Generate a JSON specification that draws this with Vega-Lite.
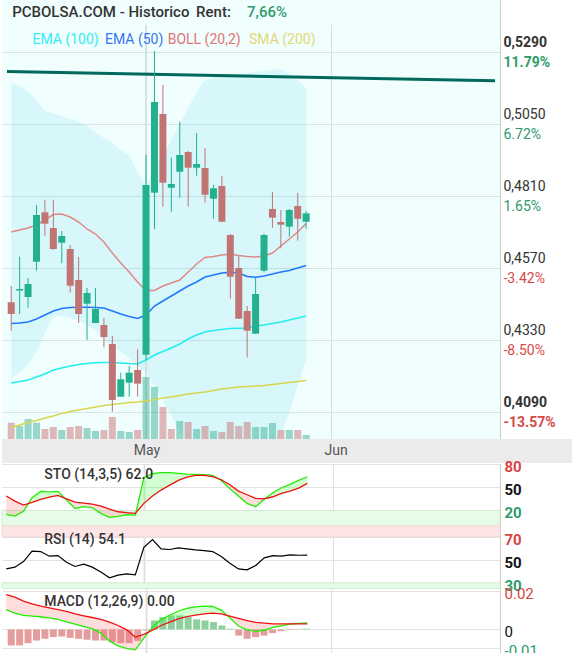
{
"$schema":"https://vega.github.io/schema/vega-lite/v6.json",
"padding":0,
"background":"#ffffff",
"spacing":0,
"bounds":"flush",
"config":{"view":{"stroke":null},"font":"Roboto","axis":{"labelFont":"Roboto"}},
"datasets":{
"d":[
{"i":0,"o":0.44557,"h":0.451,"l":0.4361,"c":0.44167,"vol":16.3,"vd":"d","bu":0.51867,"bm":0.469,"bl":0.42033,"e50":0.4385,"e100":0.41867,"s200":0.40383,"k":14.9,"dd":38.5,"rsi":42.1,"m":0.0105,"sig":0.0184,"hist":-0.0084},
{"i":1,"o":0.4495,"h":0.46077,"l":0.44167,"c":0.45,"vol":13,"vd":"u","bu":0.51767,"bm":0.46967,"bl":0.42233,"e50":0.43867,"e100":0.41917,"s200":0.40467,"k":12.8,"dd":32,"rsi":43.6,"m":0.0086,"sig":0.017,"hist":-0.0084},
{"i":2,"o":0.44733,"h":0.45367,"l":0.44377,"c":0.45167,"vol":20,"vd":"u","bu":0.516,"bm":0.47033,"bl":0.42467,"e50":0.439,"e100":0.41967,"s200":0.4055,"k":19,"dd":26.9,"rsi":48.5,"m":0.0074,"sig":0.0149,"hist":-0.0072},
{"i":3,"o":0.4591,"h":0.478,"l":0.4561,"c":0.47467,"vol":16.3,"vd":"u","bu":0.513,"bm":0.47133,"bl":0.429,"e50":0.44,"e100":0.42067,"s200":0.40617,"k":36.3,"dd":30.3,"rsi":57.5,"m":0.007,"sig":0.0135,"hist":-0.0058},
{"i":4,"o":0.47557,"h":0.47967,"l":0.46777,"c":0.47177,"vol":10,"vd":"d","bu":0.50933,"bm":0.473,"bl":0.43533,"e50":0.44133,"e100":0.42167,"s200":0.407,"k":44.5,"dd":34.2,"rsi":57.2,"m":0.0067,"sig":0.0123,"hist":-0.0049},
{"i":5,"o":0.47033,"h":0.47967,"l":0.463,"c":0.46333,"vol":12,"vd":"d","bu":0.5085,"bm":0.47483,"bl":0.44067,"e50":0.44267,"e100":0.423,"s200":0.40767,"k":44,"dd":37.2,"rsi":53.2,"m":0.0061,"sig":0.0114,"hist":-0.004},
{"i":6,"o":0.46543,"h":0.46933,"l":0.45857,"c":0.46767,"vol":9,"vd":"u","bu":0.50767,"bm":0.475,"bl":0.441,"e50":0.4435,"e100":0.42367,"s200":0.4085,"k":44.5,"dd":39.3,"rsi":53.7,"m":0.0053,"sig":0.0105,"hist":-0.0037},
{"i":7,"o":0.46333,"h":0.46467,"l":0.44877,"c":0.4511,"vol":12,"vd":"d","bu":0.50667,"bm":0.474,"bl":0.44033,"e50":0.44383,"e100":0.42433,"s200":0.40917,"k":33.5,"dd":35,"rsi":47.9,"m":0.004,"sig":0.0095,"hist":-0.0044},
{"i":8,"o":0.453,"h":0.46067,"l":0.43867,"c":0.44167,"vol":13,"vd":"d","bu":0.50567,"bm":0.47233,"bl":0.43967,"e50":0.4439,"e100":0.42483,"s200":0.40967,"k":22.6,"dd":30.8,"rsi":44.2,"m":0.0028,"sig":0.0082,"hist":-0.0049},
{"i":9,"o":0.4451,"h":0.45033,"l":0.433,"c":0.44867,"vol":11,"vd":"u","bu":0.50433,"bm":0.47,"bl":0.438,"e50":0.4439,"e100":0.42517,"s200":0.41017,"k":24.8,"dd":29.5,"rsi":46.2,"m":0.0016,"sig":0.0072,"hist":-0.0054},
{"i":10,"o":0.43867,"h":0.45033,"l":0.43867,"c":0.44333,"vol":8,"vd":"u","bu":0.50233,"bm":0.46833,"bl":0.43633,"e50":0.44383,"e100":0.4254,"s200":0.41067,"k":23.5,"dd":28.2,"rsi":43.6,"m":0.0004,"sig":0.0063,"hist":-0.0058},
{"i":11,"o":0.438,"h":0.44033,"l":0.43057,"c":0.434,"vol":9,"vd":"d","bu":0.50033,"bm":0.46567,"bl":0.433,"e50":0.44367,"e100":0.4255,"s200":0.41117,"k":16.2,"dd":25.6,"rsi":39.3,"m":-0.0019,"sig":0.0053,"hist":-0.0058},
{"i":12,"o":0.43167,"h":0.43433,"l":0.4091,"c":0.413,"vol":22,"vd":"d","bu":0.49867,"bm":0.462,"bl":0.431,"e50":0.44267,"e100":0.4255,"s200":0.4115,"k":11,"dd":21.7,"rsi":34.3,"m":-0.006,"sig":0.0039,"hist":-0.0067},
{"i":13,"o":0.4141,"h":0.4221,"l":0.4141,"c":0.4199,"vol":8,"vd":"u","bu":0.49633,"bm":0.45867,"bl":0.429,"e50":0.44167,"e100":0.42533,"s200":0.41183,"k":12.4,"dd":18.3,"rsi":36.6,"m":-0.0086,"sig":0.0021,"hist":-0.0072},
{"i":14,"o":0.41877,"h":0.42433,"l":0.4141,"c":0.4221,"vol":7,"vd":"u","bu":0.49467,"bm":0.45567,"bl":0.427,"e50":0.44083,"e100":0.42517,"s200":0.41217,"k":14.5,"dd":17.1,"rsi":37.8,"m":-0.0099,"sig":-0.0002,"hist":-0.0072},
{"i":15,"o":0.423,"h":0.4299,"l":0.4141,"c":0.41843,"vol":9,"vd":"d","bu":0.489,"bm":0.45233,"bl":0.42433,"e50":0.44017,"e100":0.425,"s200":0.41233,"k":14,"dd":16.2,"rsi":36.9,"m":-0.0107,"sig":-0.004,"hist":-0.006},
{"i":16,"o":0.4281,"h":0.49467,"l":0.42633,"c":0.48467,"vol":62,"vd":"u","bu":0.48433,"bm":0.4495,"bl":0.42233,"e50":0.44133,"e100":0.42633,"s200":0.41267,"k":62,"dd":29.1,"rsi":61,"m":-0.0045,"sig":-0.0026,"hist":-0.0005},
{"i":17,"o":0.4821,"h":0.52933,"l":0.4699,"c":0.51233,"vol":52,"vd":"u","bu":0.49033,"bm":0.4495,"bl":0.41733,"e50":0.44433,"e100":0.428,"s200":0.41317,"k":67.2,"dd":38.5,"rsi":67.7,"m":0.0012,"sig":-0.0003,"hist":0.0047},
{"i":18,"o":0.50833,"h":0.518,"l":0.47743,"c":0.48543,"vol":32,"vd":"d","bu":0.49467,"bm":0.451,"bl":0.413,"e50":0.446,"e100":0.42917,"s200":0.41367,"k":68.5,"dd":46.2,"rsi":59.5,"m":0.0053,"sig":0.0021,"hist":0.0065},
{"i":19,"o":0.48377,"h":0.49377,"l":0.47577,"c":0.485,"vol":10,"vd":"d","bu":0.49967,"bm":0.452,"bl":0.40767,"e50":0.44767,"e100":0.43033,"s200":0.414,"k":68.5,"dd":52.6,"rsi":59,"m":0.0075,"sig":0.0039,"hist":0.0074},
{"i":20,"o":0.4891,"h":0.50577,"l":0.48043,"c":0.49467,"vol":18,"vd":"u","bu":0.505,"bm":0.453,"bl":0.40233,"e50":0.44933,"e100":0.43167,"s200":0.4145,"k":67.6,"dd":58.6,"rsi":60.4,"m":0.0096,"sig":0.0056,"hist":0.0074},
{"i":21,"o":0.49567,"h":0.496,"l":0.47743,"c":0.49043,"vol":17,"vd":"d","bu":0.51033,"bm":0.45567,"bl":0.398,"e50":0.451,"e100":0.43333,"s200":0.415,"k":66.7,"dd":62.9,"rsi":59.5,"m":0.0111,"sig":0.0068,"hist":0.0065},
{"i":22,"o":0.49043,"h":0.502,"l":0.48777,"c":0.49167,"vol":10,"vd":"u","bu":0.51567,"bm":0.45833,"bl":0.39467,"e50":0.45233,"e100":0.43467,"s200":0.41533,"k":66.3,"dd":65,"rsi":58.7,"m":0.0119,"sig":0.0075,"hist":0.0053},
{"i":23,"o":0.49033,"h":0.497,"l":0.47877,"c":0.48143,"vol":13,"vd":"d","bu":0.51967,"bm":0.4605,"bl":0.39233,"e50":0.454,"e100":0.43567,"s200":0.41567,"k":66,"dd":65.2,"rsi":58.1,"m":0.0123,"sig":0.0082,"hist":0.0047},
{"i":24,"o":0.4801,"h":0.48467,"l":0.47343,"c":0.48357,"vol":8,"vd":"u","bu":0.52067,"bm":0.46083,"bl":0.391,"e50":0.45467,"e100":0.43617,"s200":0.41617,"k":65,"dd":63.5,"rsi":57.2,"m":0.0121,"sig":0.0086,"hist":0.0039},
{"i":25,"o":0.48433,"h":0.48767,"l":0.4723,"c":0.47243,"vol":7,"vd":"d","bu":0.52133,"bm":0.46133,"bl":0.39033,"e50":0.45533,"e100":0.4365,"s200":0.41667,"k":58.5,"dd":59.5,"rsi":52.9,"m":0.0102,"sig":0.0082,"hist":0.0021},
{"i":26,"o":0.468,"h":0.46833,"l":0.44677,"c":0.4541,"vol":17,"vd":"d","bu":0.52167,"bm":0.46167,"bl":0.38967,"e50":0.45557,"e100":0.43683,"s200":0.417,"k":48,"dd":53,"rsi":47.1,"m":0.0061,"sig":0.007,"hist":0.0004},
{"i":27,"o":0.457,"h":0.461,"l":0.44,"c":0.4401,"vol":13,"vd":"d","bu":0.52183,"bm":0.46117,"bl":0.38967,"e50":0.45533,"e100":0.4369,"s200":0.41733,"k":38.5,"dd":44.9,"rsi":42.1,"m":0.0018,"sig":0.0058,"hist":-0.0032},
{"i":28,"o":0.44267,"h":0.44433,"l":0.4271,"c":0.4361,"vol":17,"vd":"d","bu":0.522,"bm":0.46083,"bl":0.39033,"e50":0.45417,"e100":0.437,"s200":0.4175,"k":29.1,"dd":40.2,"rsi":41.3,"m":-0.0002,"sig":0.0046,"hist":-0.0049},
{"i":29,"o":0.4351,"h":0.45377,"l":0.435,"c":0.44833,"vol":12,"vd":"u","bu":0.52233,"bm":0.46067,"bl":0.39133,"e50":0.4539,"e100":0.43767,"s200":0.41767,"k":24.8,"dd":35.5,"rsi":45,"m":-0.0009,"sig":0.0037,"hist":-0.004},
{"i":30,"o":0.4561,"h":0.46843,"l":0.45557,"c":0.468,"vol":12,"vd":"u","bu":0.52267,"bm":0.461,"bl":0.393,"e50":0.45433,"e100":0.438,"s200":0.41783,"k":34.5,"dd":35,"rsi":51.7,"m":-0.0004,"sig":0.0033,"hist":-0.0032},
{"i":31,"o":0.47667,"h":0.48233,"l":0.47043,"c":0.47377,"vol":16,"vd":"u","bu":0.52317,"bm":0.462,"bl":0.39567,"e50":0.455,"e100":0.4385,"s200":0.41817,"k":42.8,"dd":37.6,"rsi":53.7,"m":0.0011,"sig":0.003,"hist":-0.0019},
{"i":32,"o":0.47233,"h":0.47633,"l":0.46357,"c":0.47143,"vol":9,"vd":"d","bu":0.523,"bm":0.46433,"bl":0.40133,"e50":0.45567,"e100":0.439,"s200":0.4185,"k":49.2,"dd":41.9,"rsi":53.2,"m":0.0019,"sig":0.003,"hist":-0.0009},
{"i":33,"o":0.47077,"h":0.47667,"l":0.46743,"c":0.47633,"vol":9,"vd":"u","bu":0.52167,"bm":0.46667,"bl":0.409,"e50":0.45617,"e100":0.43967,"s200":0.41883,"k":53.5,"dd":44.9,"rsi":54.3,"m":0.0028,"sig":0.003,"hist":-0.0003},
{"i":34,"o":0.47767,"h":0.482,"l":0.4661,"c":0.47343,"vol":9,"vd":"d","bu":0.51967,"bm":0.469,"bl":0.418,"e50":0.457,"e100":0.44033,"s200":0.41917,"k":58.6,"dd":48.8,"rsi":54,"m":0.0032,"sig":0.003,"hist":-0.0002},
{"i":35,"o":0.47243,"h":0.476,"l":0.4701,"c":0.47523,"vol":4,"vd":"u","bu":0.517,"bm":0.47183,"bl":0.42633,"e50":0.45783,"e100":0.441,"s200":0.4195,"k":63.3,"dd":54.8,"rsi":54.1,"m":0.0035,"sig":0.003,"hist":0.0004}
],
"stofill":[
{"i":0,"k":14.9,"dd":38.5,"run":1,"s":"dn"},{"i":1,"k":12.8,"dd":32,"run":1,"s":"dn"},{"i":2,"k":19,"dd":26.9,"run":1,"s":"dn"},{"i":3,"k":36.3,"dd":30.3,"run":1,"s":"dn"},
{"i":3,"k":36.3,"dd":30.3,"run":2,"s":"up"},{"i":4,"k":44.5,"dd":34.2,"run":2,"s":"up"},{"i":5,"k":44,"dd":37.2,"run":2,"s":"up"},{"i":6,"k":44.5,"dd":39.3,"run":2,"s":"up"},{"i":7,"k":33.5,"dd":35,"run":2,"s":"up"},
{"i":7,"k":33.5,"dd":35,"run":3,"s":"dn"},{"i":8,"k":22.6,"dd":30.8,"run":3,"s":"dn"},{"i":9,"k":24.8,"dd":29.5,"run":3,"s":"dn"},{"i":10,"k":23.5,"dd":28.2,"run":3,"s":"dn"},{"i":11,"k":16.2,"dd":25.6,"run":3,"s":"dn"},{"i":12,"k":11,"dd":21.7,"run":3,"s":"dn"},{"i":13,"k":12.4,"dd":18.3,"run":3,"s":"dn"},{"i":14,"k":14.5,"dd":17.1,"run":3,"s":"dn"},{"i":15,"k":14,"dd":16.2,"run":3,"s":"dn"},
{"i":15,"k":14,"dd":16.2,"run":4,"s":"up"},{"i":16,"k":62,"dd":29.1,"run":4,"s":"up"},{"i":17,"k":67.2,"dd":38.5,"run":4,"s":"up"},{"i":18,"k":68.5,"dd":46.2,"run":4,"s":"up"},{"i":19,"k":68.5,"dd":52.6,"run":4,"s":"up"},{"i":20,"k":67.6,"dd":58.6,"run":4,"s":"up"},{"i":21,"k":66.7,"dd":62.9,"run":4,"s":"up"},{"i":22,"k":66.3,"dd":65,"run":4,"s":"up"},{"i":23,"k":66,"dd":65.2,"run":4,"s":"up"},{"i":24,"k":65,"dd":63.5,"run":4,"s":"up"},{"i":25,"k":58.5,"dd":59.5,"run":4,"s":"up"},
{"i":25,"k":58.5,"dd":59.5,"run":5,"s":"dn"},{"i":26,"k":48,"dd":53,"run":5,"s":"dn"},{"i":27,"k":38.5,"dd":44.9,"run":5,"s":"dn"},{"i":28,"k":29.1,"dd":40.2,"run":5,"s":"dn"},{"i":29,"k":24.8,"dd":35.5,"run":5,"s":"dn"},{"i":30,"k":34.5,"dd":35,"run":5,"s":"dn"},
{"i":30,"k":34.5,"dd":35,"run":6,"s":"up"},{"i":31,"k":42.8,"dd":37.6,"run":6,"s":"up"},{"i":32,"k":49.2,"dd":41.9,"run":6,"s":"up"},{"i":33,"k":53.5,"dd":44.9,"run":6,"s":"up"},{"i":34,"k":58.6,"dd":48.8,"run":6,"s":"up"},{"i":35,"k":63.3,"dd":54.8,"run":6,"s":"up"}
],
"macdfill":[
{"i":0,"m":0.0105,"sig":0.0184,"run":1,"s":"dn"},{"i":1,"m":0.0086,"sig":0.017,"run":1,"s":"dn"},{"i":2,"m":0.0074,"sig":0.0149,"run":1,"s":"dn"},{"i":3,"m":0.007,"sig":0.0135,"run":1,"s":"dn"},{"i":4,"m":0.0067,"sig":0.0123,"run":1,"s":"dn"},{"i":5,"m":0.0061,"sig":0.0114,"run":1,"s":"dn"},{"i":6,"m":0.0053,"sig":0.0105,"run":1,"s":"dn"},{"i":7,"m":0.004,"sig":0.0095,"run":1,"s":"dn"},{"i":8,"m":0.0028,"sig":0.0082,"run":1,"s":"dn"},{"i":9,"m":0.0016,"sig":0.0072,"run":1,"s":"dn"},{"i":10,"m":0.0004,"sig":0.0063,"run":1,"s":"dn"},{"i":11,"m":-0.0019,"sig":0.0053,"run":1,"s":"dn"},{"i":12,"m":-0.006,"sig":0.0039,"run":1,"s":"dn"},{"i":13,"m":-0.0086,"sig":0.0021,"run":1,"s":"dn"},{"i":14,"m":-0.0099,"sig":-0.0002,"run":1,"s":"dn"},{"i":15,"m":-0.0107,"sig":-0.004,"run":1,"s":"dn"},{"i":16,"m":-0.0045,"sig":-0.0026,"run":1,"s":"dn"},{"i":17,"m":0.0012,"sig":-0.0003,"run":1,"s":"dn"},
{"i":17,"m":0.0012,"sig":-0.0003,"run":2,"s":"up"},{"i":18,"m":0.0053,"sig":0.0021,"run":2,"s":"up"},{"i":19,"m":0.0075,"sig":0.0039,"run":2,"s":"up"},{"i":20,"m":0.0096,"sig":0.0056,"run":2,"s":"up"},{"i":21,"m":0.0111,"sig":0.0068,"run":2,"s":"up"},{"i":22,"m":0.0119,"sig":0.0075,"run":2,"s":"up"},{"i":23,"m":0.0123,"sig":0.0082,"run":2,"s":"up"},{"i":24,"m":0.0121,"sig":0.0086,"run":2,"s":"up"},{"i":25,"m":0.0102,"sig":0.0082,"run":2,"s":"up"},{"i":26,"m":0.0061,"sig":0.007,"run":2,"s":"up"},
{"i":26,"m":0.0061,"sig":0.007,"run":3,"s":"dn"},{"i":27,"m":0.0018,"sig":0.0058,"run":3,"s":"dn"},{"i":28,"m":-0.0002,"sig":0.0046,"run":3,"s":"dn"},{"i":29,"m":-0.0009,"sig":0.0037,"run":3,"s":"dn"},{"i":30,"m":-0.0004,"sig":0.0033,"run":3,"s":"dn"},{"i":31,"m":0.0011,"sig":0.003,"run":3,"s":"dn"},{"i":32,"m":0.0019,"sig":0.003,"run":3,"s":"dn"},{"i":33,"m":0.0028,"sig":0.003,"run":3,"s":"dn"},{"i":34,"m":0.0032,"sig":0.003,"run":3,"s":"dn"},
{"i":34,"m":0.0032,"sig":0.003,"run":4,"s":"up"},{"i":35,"m":0.0035,"sig":0.003,"run":4,"s":"up"}
],
"trend":[{"i":-0.5,"p":0.5225},{"i":57.41,"p":0.5194}],
"mon":[{"i":16,"m":"May"},{"i":38,"m":"Jun"}]
},
"vconcat":[
{
"width":498,"height":439,
"view":{"fill":"#f0fefe","stroke":null},
"resolve":{"scale":{"y":"independent"}},
"layer":[
{"data":{"name":"d"},"mark":{"type":"area","color":"#00b8d6","opacity":0.1,"clip":true},
 "encoding":{"x":{"field":"i","type":"quantitative","scale":{"domain":[-0.5,57.41],"nice":false,"zero":false},"axis":null},
  "y":{"field":"bu","type":"quantitative","scale":{"domain":[0.4,0.54633],"nice":false,"zero":false},
   "axis":{"orient":"right","title":null,"values":[0.409,0.433,0.457,0.481,0.505,0.529],"labelExpr":"replace(format(datum.value,'.4f'),'.',',')","grid":true,"gridColor":"#d3e5e5","ticks":false,"domain":true,"domainColor":"#cccccc","labelPadding":3,"labelOffset":-9,"labelFontSize":14,"labelColor":"#333333","labelFontWeight":{"condition":{"test":"datum.value>0.52||datum.value<0.41","value":"bold"},"value":"normal"},"labelOverlap":false,"labelBaseline":"middle"}},
  "y2":{"field":"bl"}}},
{"data":{"name":"mon"},"mark":{"type":"rule","color":"#d2e2e2"},
 "encoding":{"x":{"field":"i","type":"quantitative","scale":{"domain":[-0.5,57.41],"nice":false,"zero":false},"axis":null},
  "y":{"datum":0.538,"type":"quantitative","scale":{"domain":[0.4,0.54633],"nice":false,"zero":false},"axis":null},"y2":{"datum":0.4},
  "strokeWidth":{"condition":{"test":"datum.i==16","value":2},"value":1}}},
{"data":{"name":"d"},"mark":{"type":"bar","size":7,"opacity":0.45},
 "encoding":{"x":{"field":"i","type":"quantitative","scale":{"domain":[-0.5,57.41],"nice":false,"zero":false},"axis":null},
  "y":{"field":"vol","type":"quantitative","scale":{"domain":[0,439],"nice":false},"axis":null},
  "color":{"condition":{"test":"datum.vd=='u'","value":"#2aa889"},"value":"#c86464"}}},
{"data":{"name":"d"},"mark":{"type":"line","color":"#d8d64e","strokeWidth":1.5},
 "encoding":{"x":{"field":"i","type":"quantitative","scale":{"domain":[-0.5,57.41],"nice":false,"zero":false},"axis":null},
  "y":{"field":"s200","type":"quantitative","scale":{"domain":[0.4,0.54633],"nice":false,"zero":false},"axis":null}}},
{"data":{"name":"d"},"mark":{"type":"line","color":"#22eeee","strokeWidth":1.5},
 "encoding":{"x":{"field":"i","type":"quantitative","scale":{"domain":[-0.5,57.41],"nice":false,"zero":false},"axis":null},
  "y":{"field":"e100","type":"quantitative","scale":{"domain":[0.4,0.54633],"nice":false,"zero":false},"axis":null}}},
{"data":{"name":"d"},"mark":{"type":"line","color":"#1f78ff","strokeWidth":1.5},
 "encoding":{"x":{"field":"i","type":"quantitative","scale":{"domain":[-0.5,57.41],"nice":false,"zero":false},"axis":null},
  "y":{"field":"e50","type":"quantitative","scale":{"domain":[0.4,0.54633],"nice":false,"zero":false},"axis":null}}},
{"data":{"name":"d"},"mark":{"type":"line","color":"#e08888","strokeWidth":1.5},
 "encoding":{"x":{"field":"i","type":"quantitative","scale":{"domain":[-0.5,57.41],"nice":false,"zero":false},"axis":null},
  "y":{"field":"bm","type":"quantitative","scale":{"domain":[0.4,0.54633],"nice":false,"zero":false},"axis":null}}},
{"data":{"name":"trend"},"mark":{"type":"line","color":"#00695c","strokeWidth":3},
 "encoding":{"x":{"field":"i","type":"quantitative","scale":{"domain":[-0.5,57.41],"nice":false,"zero":false},"axis":null},
  "y":{"field":"p","type":"quantitative","scale":{"domain":[0.4,0.54633],"nice":false,"zero":false},"axis":null}}},
{"data":{"name":"d"},"mark":{"type":"rule","strokeWidth":1},
 "encoding":{"x":{"field":"i","type":"quantitative","scale":{"domain":[-0.5,57.41],"nice":false,"zero":false},"axis":null},
  "y":{"field":"l","type":"quantitative","scale":{"domain":[0.4,0.54633],"nice":false,"zero":false},
   "axis":{"orient":"right","title":null,"values":[0.409,0.433,0.457,0.481,0.505,0.529],"labelExpr":"datum.value>0.52?'11.79%':datum.value>0.5?'6.72%':datum.value>0.47?'1.65%':datum.value>0.45?'-3.42%':datum.value>0.42?'-8.50%':'-13.57%'","grid":false,"ticks":false,"domain":false,"labelPadding":3,"labelOffset":11,"labelFontSize":14,"labelColor":{"condition":{"test":"datum.value>0.47","value":"#2e9b6b"},"value":"#d94848"},"labelFontWeight":{"condition":{"test":"datum.value>0.52||datum.value<0.41","value":"bold"},"value":"normal"},"labelOverlap":false,"labelBaseline":"middle"}},
  "y2":{"field":"h"},
  "color":{"condition":{"test":"datum.c>=datum.o","value":"#23b08e"},"value":"#c07474"}}},
{"data":{"name":"d"},"mark":{"type":"bar","size":7},
 "encoding":{"x":{"field":"i","type":"quantitative","scale":{"domain":[-0.5,57.41],"nice":false,"zero":false},"axis":null},
  "y":{"field":"o","type":"quantitative","scale":{"domain":[0.4,0.54633],"nice":false,"zero":false},"axis":null},
  "y2":{"field":"c"},
  "color":{"condition":{"test":"datum.c>=datum.o","value":"#23b08e"},"value":"#c07474"}}},
{"data":{"values":[{}]},"mark":{"type":"text","align":"left","baseline":"alphabetic","fontSize":15,"fontWeight":500,"color":"#333333"},
 "encoding":{"x":{"datum":0.116,"type":"quantitative","scale":{"domain":[-0.5,57.41],"nice":false,"zero":false},"axis":null},
  "y":{"datum":0.54077,"type":"quantitative","scale":{"domain":[0.4,0.54633],"nice":false,"zero":false},"axis":null},
  "text":{"value":"PCBOLSA.COM - Historico"}}},
{"data":{"values":[{}]},"mark":{"type":"text","align":"left","baseline":"alphabetic","fontSize":15,"fontWeight":500,"color":"#333333"},
 "encoding":{"x":{"datum":21.94,"type":"quantitative","scale":{"domain":[-0.5,57.41],"nice":false,"zero":false},"axis":null},
  "y":{"datum":0.54077,"type":"quantitative","scale":{"domain":[0.4,0.54633],"nice":false,"zero":false},"axis":null},
  "text":{"value":"Rent:"}}},
{"data":{"values":[{}]},"mark":{"type":"text","align":"left","baseline":"alphabetic","fontSize":15,"fontWeight":500,"color":"#2e9b6b"},
 "encoding":{"x":{"datum":27.99,"type":"quantitative","scale":{"domain":[-0.5,57.41],"nice":false,"zero":false},"axis":null},
  "y":{"datum":0.54077,"type":"quantitative","scale":{"domain":[0.4,0.54633],"nice":false,"zero":false},"axis":null},
  "text":{"value":"7,66%"}}},
{"data":{"values":[{}]},"mark":{"type":"text","align":"left","baseline":"alphabetic","fontSize":14,"color":"#33eef2"},
 "encoding":{"x":{"datum":2.523,"type":"quantitative","scale":{"domain":[-0.5,57.41],"nice":false,"zero":false},"axis":null},
  "y":{"datum":0.53157,"type":"quantitative","scale":{"domain":[0.4,0.54633],"nice":false,"zero":false},"axis":null},
  "text":{"value":"EMA (100)"}}},
{"data":{"values":[{}]},"mark":{"type":"text","align":"left","baseline":"alphabetic","fontSize":14,"color":"#3a74f0"},
 "encoding":{"x":{"datum":11.128,"type":"quantitative","scale":{"domain":[-0.5,57.41],"nice":false,"zero":false},"axis":null},
  "y":{"datum":0.53157,"type":"quantitative","scale":{"domain":[0.4,0.54633],"nice":false,"zero":false},"axis":null},
  "text":{"value":"EMA (50)"}}},
{"data":{"values":[{}]},"mark":{"type":"text","align":"left","baseline":"alphabetic","fontSize":14,"color":"#e27474"},
 "encoding":{"x":{"datum":18.57,"type":"quantitative","scale":{"domain":[-0.5,57.41],"nice":false,"zero":false},"axis":null},
  "y":{"datum":0.53157,"type":"quantitative","scale":{"domain":[0.4,0.54633],"nice":false,"zero":false},"axis":null},
  "text":{"value":"BOLL (20,2)"}}},
{"data":{"values":[{}]},"mark":{"type":"text","align":"left","baseline":"alphabetic","fontSize":14,"color":"#e2d878"},
 "encoding":{"x":{"datum":28.22,"type":"quantitative","scale":{"domain":[-0.5,57.41],"nice":false,"zero":false},"axis":null},
  "y":{"datum":0.53157,"type":"quantitative","scale":{"domain":[0.4,0.54633],"nice":false,"zero":false},"axis":null},
  "text":{"value":"SMA (200)"}}}
]
},
{
"width":572,"height":24,
"view":{"fill":"#ebebeb","stroke":null},
"data":{"name":"mon"},
"mark":{"type":"text","fontSize":14,"color":"#555555","dx":3},
"encoding":{"x":{"field":"i","type":"quantitative","scale":{"domain":[-0.5,66.01],"nice":false,"zero":false},"axis":null},"text":{"field":"m"}}
},
{
"width":498,"height":63,
"resolve":{"scale":{"x":"independent","y":"independent"}},
"layer":[
{"data":{"values":[{"lo":0,"hi":20}]},"mark":{"type":"rect","color":"#e6fce6","stroke":"#d0ead0","strokeWidth":1},
 "encoding":{"y":{"field":"lo","type":"quantitative","scale":{"domain":[0,81],"nice":false,"zero":false},
   "axis":{"orient":"right","title":null,"values":[20,50,80],"grid":true,"gridColor":"#e2e2e2","ticks":false,"domainColor":"#cccccc","labelPadding":4,"labelOffset":2.5,"labelFontSize":15,"labelFontWeight":"bold","labelColor":{"condition":{"test":"datum.value>60","value":"#d64545"},"expr":"datum.value<30?'#2e9b6b':'#111111'"},"labelOverlap":false,"labelBaseline":"middle"}},
  "y2":{"field":"hi"}}},
{"data":{"name":"stofill"},"mark":{"type":"area","fillOpacity":0.22},
 "encoding":{"x":{"field":"i","type":"quantitative","scale":{"domain":[-0.5,57.41],"nice":false,"zero":false},
   "axis":{"orient":"bottom","values":[16,38],"grid":true,"gridColor":"#e0e0e0","gridWidth":{"condition":{"test":"datum.value==16","value":2},"value":1},"labels":false,"ticks":false,"domain":false,"title":null}},
  "y":{"field":"k","type":"quantitative","scale":{"domain":[0,81],"nice":false,"zero":false},"axis":null},
  "y2":{"field":"dd"},
  "color":{"field":"s","type":"nominal","scale":{"domain":["up","dn"],"range":["#33ff33","#ff6666"]},"legend":null},
  "detail":{"field":"run","type":"nominal"}}},
{"data":{"name":"d"},"mark":{"type":"line","color":"#22ee00","strokeWidth":1.3},
 "encoding":{"x":{"field":"i","type":"quantitative","scale":{"domain":[-0.5,57.41],"nice":false,"zero":false},"axis":null},
  "y":{"field":"k","type":"quantitative","scale":{"domain":[0,81],"nice":false,"zero":false},"axis":null}}},
{"data":{"name":"d"},"mark":{"type":"line","color":"#ee1111","strokeWidth":1.3},
 "encoding":{"x":{"field":"i","type":"quantitative","scale":{"domain":[-0.5,57.41],"nice":false,"zero":false},"axis":null},
  "y":{"field":"dd","type":"quantitative","scale":{"domain":[0,81],"nice":false,"zero":false},"axis":null}}},
{"data":{"values":[{}]},"mark":{"type":"text","align":"left","baseline":"alphabetic","fontSize":14,"fontWeight":500,"color":"#333333"},
 "encoding":{"x":{"datum":4.42,"type":"quantitative","scale":{"domain":[-0.5,57.41],"nice":false,"zero":false},"axis":null},
  "y":{"datum":59.9,"type":"quantitative","scale":{"domain":[0,81],"nice":false,"zero":false},"axis":null},
  "text":{"value":"STO (14,3,5) 62.0"}}}
]
},
{
"width":498,"height":62.5,
"resolve":{"scale":{"x":"independent","y":"independent"}},
"layer":[
{"data":{"values":[{"lo":70,"hi":79.5}]},"mark":{"type":"rect","color":"#fde5e5","stroke":"#f6d6d6","strokeWidth":1},
 "encoding":{"y":{"field":"lo","type":"quantitative","scale":{"domain":[25,79.5],"nice":false,"zero":false},
   "axis":{"orient":"right","title":null,"values":[30,50,70],"grid":true,"gridColor":"#e2e2e2","ticks":false,"domainColor":"#cccccc","labelPadding":4,"labelOffset":2.5,"labelFontSize":15,"labelFontWeight":"bold","labelColor":{"condition":{"test":"datum.value>60","value":"#d64545"},"expr":"datum.value<40?'#2e9b6b':'#111111'"},"labelOverlap":false,"labelBaseline":"middle"}},
  "y2":{"field":"hi"}}},
{"data":{"values":[{"lo":25,"hi":30}]},"mark":{"type":"rect","color":"#e6fce6","stroke":"#d0ead0","strokeWidth":1},
 "encoding":{"y":{"field":"lo","type":"quantitative","scale":{"domain":[25,79.5],"nice":false,"zero":false},"axis":null},"y2":{"field":"hi"}}},
{"data":{"name":"d"},"mark":{"type":"line","color":"#000000","strokeWidth":1.2},
 "encoding":{"x":{"field":"i","type":"quantitative","scale":{"domain":[-0.5,57.41],"nice":false,"zero":false},
   "axis":{"orient":"bottom","values":[16,38],"grid":true,"gridColor":"#e0e0e0","gridWidth":{"condition":{"test":"datum.value==16","value":2},"value":1},"labels":false,"ticks":false,"domain":false,"title":null}},
  "y":{"field":"rsi","type":"quantitative","scale":{"domain":[25,79.5],"nice":false,"zero":false},"axis":null}}},
{"data":{"values":[{}]},"mark":{"type":"text","align":"left","baseline":"alphabetic","fontSize":14,"fontWeight":500,"color":"#333333"},
 "encoding":{"x":{"datum":4.42,"type":"quantitative","scale":{"domain":[-0.5,57.41],"nice":false,"zero":false},"axis":null},
  "y":{"datum":63.9,"type":"quantitative","scale":{"domain":[25,79.5],"nice":false,"zero":false},"axis":null},
  "text":{"value":"RSI (14) 54.1"}}}
]
},
{
"width":498,"height":65,
"resolve":{"scale":{"x":"independent","y":"independent"}},
"layer":[
{"data":{"name":"d"},"mark":{"type":"bar","size":7},
 "encoding":{"x":{"field":"i","type":"quantitative","scale":{"domain":[-0.5,57.41],"nice":false,"zero":false},
   "axis":{"orient":"bottom","values":[16,38],"grid":true,"gridColor":"#e0e0e0","gridWidth":{"condition":{"test":"datum.value==16","value":2},"value":1},"labels":false,"ticks":false,"domain":false,"title":null}},
  "y":{"field":"hist","type":"quantitative","scale":{"domain":[-0.0129,0.0213],"nice":false,"zero":false},
   "axis":{"orient":"right","title":null,"values":[-0.01,0,0.02],"labelExpr":"datum.value>0.01?'0.02':datum.value<-0.005?'-0.01':'0'","grid":true,"gridColor":"#e2e2e2","ticks":false,"domainColor":"#cccccc","labelPadding":4,"labelOffset":2.5,"labelFontSize":15,"labelColor":{"condition":{"test":"datum.value>0.01","value":"#d64545"},"expr":"datum.value<-0.005?'#2e9b6b':'#111111'"},"labelOverlap":false,"labelBaseline":"middle"}},
  "color":{"condition":{"test":"datum.hist>=0","value":"#8dcf9d"},"value":"#e49c9c"}}},
{"data":{"name":"macdfill"},"mark":{"type":"area","fillOpacity":0.22},
 "encoding":{"x":{"field":"i","type":"quantitative","scale":{"domain":[-0.5,57.41],"nice":false,"zero":false},"axis":null},
  "y":{"field":"m","type":"quantitative","scale":{"domain":[-0.0129,0.0213],"nice":false,"zero":false},"axis":null},
  "y2":{"field":"sig"},
  "color":{"field":"s","type":"nominal","scale":{"domain":["up","dn"],"range":["#33ff33","#ff6666"]},"legend":null},
  "detail":{"field":"run","type":"nominal"}}},
{"data":{"name":"d"},"mark":{"type":"line","color":"#22ee00","strokeWidth":1.3},
 "encoding":{"x":{"field":"i","type":"quantitative","scale":{"domain":[-0.5,57.41],"nice":false,"zero":false},"axis":null},
  "y":{"field":"m","type":"quantitative","scale":{"domain":[-0.0129,0.0213],"nice":false,"zero":false},"axis":null}}},
{"data":{"name":"d"},"mark":{"type":"line","color":"#ee1111","strokeWidth":1.3},
 "encoding":{"x":{"field":"i","type":"quantitative","scale":{"domain":[-0.5,57.41],"nice":false,"zero":false},"axis":null},
  "y":{"field":"sig","type":"quantitative","scale":{"domain":[-0.0129,0.0213],"nice":false,"zero":false},"axis":null}}},
{"data":{"values":[{}]},"mark":{"type":"text","align":"left","baseline":"alphabetic","fontSize":14,"fontWeight":500,"color":"#333333"},
 "encoding":{"x":{"datum":4.42,"type":"quantitative","scale":{"domain":[-0.5,57.41],"nice":false,"zero":false},"axis":null},
  "y":{"datum":0.01226,"type":"quantitative","scale":{"domain":[-0.0129,0.0213],"nice":false,"zero":false},"axis":null},
  "text":{"value":"MACD (12,26,9) 0.00"}}}
]
}
]
}
